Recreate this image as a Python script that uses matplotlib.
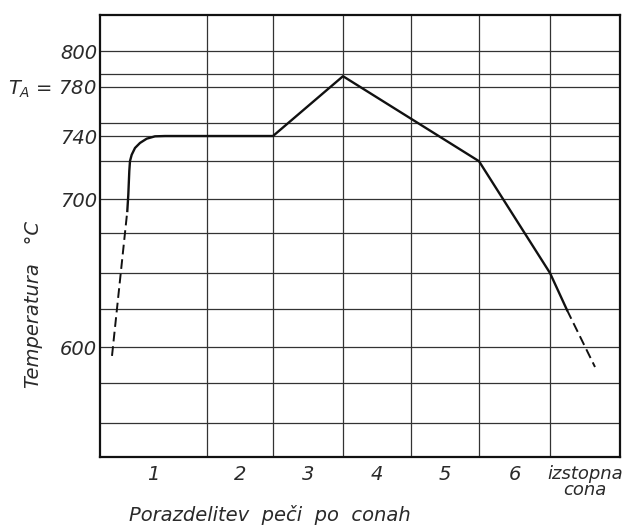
import matplotlib
matplotlib.use("Agg")
import matplotlib.pyplot as plt
import numpy as np

plt.rcParams['font.family'] = ['DejaVu Sans']
plt.rcParams['font.style'] = 'italic'
plt.rcParams['mathtext.fontset'] = 'dejavusans'

# furnace zones (lengths along the furnace) and their labels
zone_lengths = [10.7, 6.6, 7.0, 6.8, 6.8, 7.1, 7.0]
zone_labels = ['1', '2', '3', '4', '5', '6', 'izstopna\ncona']

# measured temperature profile (position along furnace, deg C)
solid_x = [2.73, 2.83, 2.93, 3.0, 3.17, 3.5, 4.0, 4.67, 5.5, 6.5,
           17.3, 24.3, 37.9, 45.0, 46.7]
solid_t = [691.9, 702.7, 717.8, 724.1, 728.1, 732.4, 735.6, 738.3, 739.8, 740,
           740, 786, 724, 650, 625]
# extrapolated parts at entry and exit
entry_x = [1.2, 2.73]
entry_t = [594, 691.9]
exit_x = [46.7, 49.5]
exit_t = [625, 586.5]

# temperature ticks
label_temps = [600, 700, 740, 780, 800]
label_texts = ['600', '700', '740', r'$T_A$ = 780', '800']
grid_temps = [549, 576, 626, 650, 677, 724, 751, 787]

# the temperature axis on the drawing is not uniform: heights of reference temps
axis_temps = [520, 600, 700, 740, 780, 800, 830]
axis_heights = [0, 118.4, 266.4, 329.4, 378.4, 414.4, 468.4]


def t_to_h(t):
    return np.interp(t, axis_temps, axis_heights)


def h_to_t(h):
    return np.interp(h, axis_heights, axis_temps)


bounds = np.concatenate([[0], np.cumsum(zone_lengths)])
centers = (bounds[:-1] + bounds[1:]) / 2

fig = plt.figure(figsize=(6.26, 5.28), dpi=100)
ax = fig.add_axes([100 / 626, 71 / 528, 520 / 626, 442 / 528])
ax.set_yscale('function', functions=(t_to_h, h_to_t))
ax.set_xlim(bounds[0], bounds[-1])
ax.set_ylim(525.7, 820)

# grid
for b in bounds[1:-1]:
    ax.axvline(b, color='#333333', lw=0.9, zorder=1)
for t in label_temps + grid_temps:
    ax.axhline(t, color='#333333', lw=0.9, zorder=1)

ax.plot(solid_x, solid_t, color='#111111', lw=1.7, solid_joinstyle='round', zorder=3)
ax.plot(entry_x, entry_t, color='#111111', lw=1.4, dashes=(5, 2.5), zorder=3)
ax.plot(exit_x, exit_t, color='#111111', lw=1.4, dashes=(5, 2.5), zorder=3)

ax.set_yticks(label_temps)
ax.set_yticklabels(label_texts)
ax.yaxis.set_minor_locator(matplotlib.ticker.NullLocator())
ax.set_xticks(centers)
ax.set_xticklabels(zone_labels)
ax.tick_params(axis='y', length=0, pad=2, labelsize=14, labelcolor='#2a2a2a')
ax.tick_params(axis='x', length=0, pad=6, labelsize=14, labelcolor='#2a2a2a')
last = ax.get_xticklabels()[-1]
last.set_fontsize(13)
last.set_linespacing(0.85)

for s in ax.spines.values():
    s.set_linewidth(1.6)
    s.set_color('#111111')

fig.text(34 / 626, 1 - 304 / 528, 'Temperatura   °C', rotation=90,
         ha='center', va='center', fontsize=14, color='#2a2a2a')
fig.text(270 / 626, 1 - 515 / 528, 'Porazdelitev  peči  po  conah',
         ha='center', va='center', fontsize=14, color='#2a2a2a')

fig.savefig('out.png', dpi=100, facecolor='white')
